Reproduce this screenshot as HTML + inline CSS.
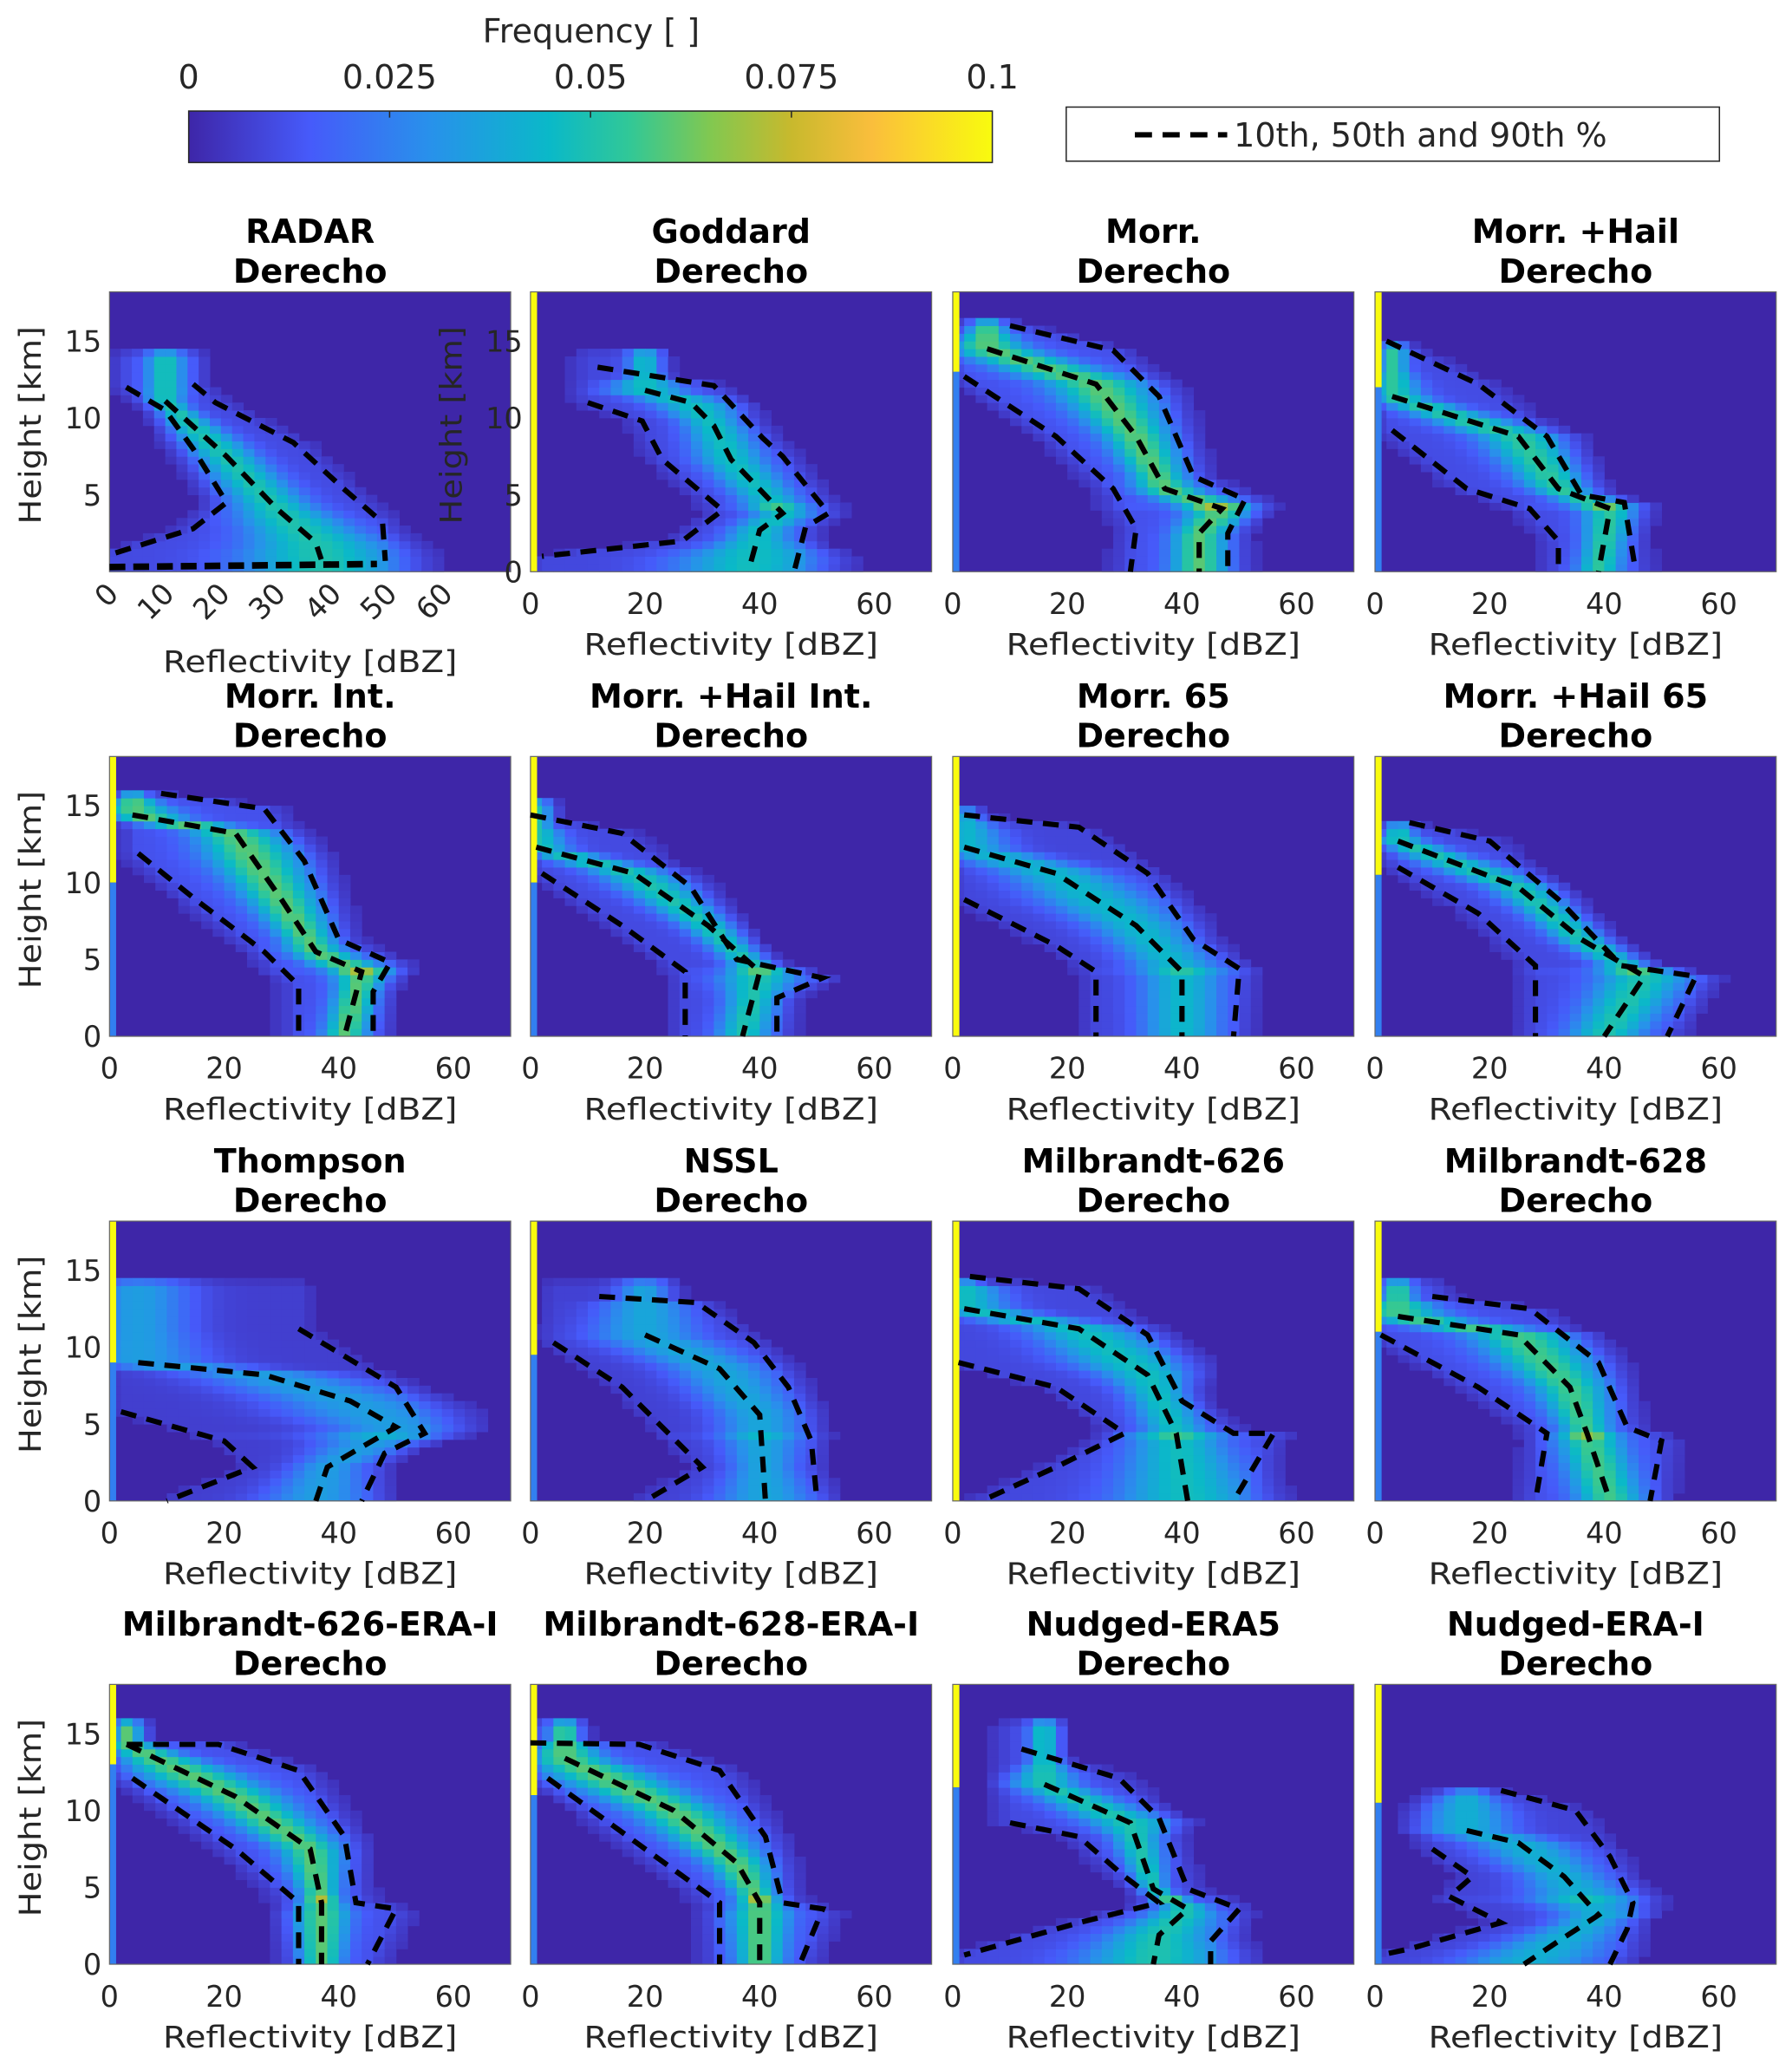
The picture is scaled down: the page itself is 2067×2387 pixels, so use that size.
<!DOCTYPE html>
<html><head><meta charset="utf-8"><style>
html,body{margin:0;padding:0;background:#fff;}
svg{display:block;}
text{font-family:"DejaVu Sans","Liberation Sans",sans-serif;fill:#262626;}
</style></head><body>
<svg id="fig" width="2067" height="2387" viewBox="0 0 1358 1568" xmlns="http://www.w3.org/2000/svg">
<defs>
<linearGradient id="parula" x1="0" x2="1" y1="0" y2="0">
<stop offset="0" stop-color="rgb(62,38,168)"/><stop offset="0.15" stop-color="rgb(70,90,250)"/>
<stop offset="0.3" stop-color="rgb(40,145,235)"/><stop offset="0.45" stop-color="rgb(10,185,200)"/>
<stop offset="0.55" stop-color="rgb(50,200,150)"/><stop offset="0.65" stop-color="rgb(130,200,80)"/>
<stop offset="0.75" stop-color="rgb(200,185,45)"/><stop offset="0.85" stop-color="rgb(250,190,60)"/>
<stop offset="1" stop-color="rgb(249,251,14)"/>
</linearGradient>
</defs>
<g>
<text x="448" y="32" text-anchor="middle" font-size="25">Frequency [ ]</text>
<rect x="143" y="84" width="609" height="39" fill="url(#parula)" stroke="#262626" stroke-width="1"/>
<g id="cbticks"></g>
</g>
<g>
<rect x="808" y="81" width="495" height="41" fill="#fff" stroke="#262626" stroke-width="1"/>
<line x1="860" y1="102" x2="930" y2="102" stroke="#000" stroke-width="4" stroke-dasharray="13,8"/>
<text x="935" y="111" font-size="25">10th, 50th and 90th %</text>
</g>
<g id="panels"></g>
</svg>
<script>
const cbTicks = [0, 0.025, 0.05, 0.075, 0.1];
const cbTickLabels = ['0', '0.025', '0.05', '0.075', '0.1'];
const titles = ['RADAR','Goddard','Morr.','Morr. +Hail','Morr. Int.','Morr. +Hail Int.','Morr. 65','Morr. +Hail 65','Thompson','NSSL','Milbrandt-626','Milbrandt-628','Milbrandt-626-ERA-I','Milbrandt-628-ERA-I','Nudged-ERA5','Nudged-ERA-I'];
const cloudTops = [14.5,14.7,16.5,15,16,15.5,15,14,14.5,14.5,14.5,14.5,16,16,16,11.5];
const gains = [0.8,0.75,0.95,0.85,0.95,0.8,0.7,0.8,0.55,0.6,0.75,0.9,0.95,0.95,0.8,0.65];
const stripYellowFrom = [-1,0,13,12,10,10,0,10.5,9,9.5,0,11,13,11,11.5,10.5];
const xTicks = [0,20,40,60];
const yTicks = [0,5,10,15];
const radarXTicks = [0,10,20,30,40,50,60];
// percentile lines as [dBZ, height km]
const p10Lines = [
 [[3,12],[10,10.5],[15,8],[21,4.5],[15,2.8],[0,1.1]],
 [[10,11],[19.5,9.8],[23,7.3],[33.5,4],[26.5,2],[2,1]],
 [[2,12.7],[18,8.8],[28,5.4],[32,2.8],[31,0]],
 [[3,9.2],[16,5.4],[27,4.1],[32,2],[32,0]],
 [[5,11.9],[15,8.9],[27,5.5],[33,3.3],[33,0]],
 [[2,10.6],[16,7.2],[27,4.2],[27,0]],
 [[2,8.9],[18,5.9],[25,4.2],[25,0]],
 [[4,11],[18,8],[28,4.6],[28,0]],
 [[2,5.8],[20,3.9],[25,2.2],[10,0]],
 [[4,10.3],[16,7.4],[30,2.2],[20,0]],
 [[1,9],[18,7.4],[30,4.4],[18,2.2],[5,0]],
 [[1,10.8],[18,7.4],[30,4.4],[28,0]],
 [[4,12.1],[22,7.5],[33,4],[33,0]],
 [[3,12.1],[20,7.5],[33,4],[33,0]],
 [[10,9.2],[22,8.3],[30,5.7],[36,4],[22,2.7],[2,0.6]],
 [[10,7.5],[17,5.7],[13,4.4],[22,2.7],[6,1],[1,0.6]]
];
const p50Lines = [
 [[10,11.1],[21,7.5],[30,4.1],[37,1.9],[38,0.8]],
 [[20,11.8],[28,11],[32,9.5],[35,7.3],[44,3.8],[40,2.7],[38,0]],
 [[6,14.5],[25,12.2],[32,8.8],[37,5.4],[47,4.1],[43,2.5],[43,0]],
 [[3,11.4],[25,8.8],[32,5.4],[41,4.1],[39,0]],
 [[4,14.4],[22,13.2],[30,8.9],[36,5.5],[44,4.2],[41,0]],
 [[1,12.3],[18,10.6],[31,7.2],[40,4.2],[37,0]],
 [[2,12.3],[18,10.6],[32,7.2],[40,4.2],[40,0]],
 [[4,12.7],[25,9.7],[36,6.3],[47,3.9],[40,0]],
 [[5,9],[27,8.2],[42,6.5],[50,4.8],[38,2.2],[36,0]],
 [[20,10.8],[33,8.6],[40,5.6],[41,0]],
 [[2,12.5],[22,11.2],[34,8.2],[39,4.4],[41,0]],
 [[4,12],[25,10.8],[34,7.4],[37,4.4],[41,0]],
 [[3,14.3],[22,10.9],[35,7.5],[37,4],[37,0]],
 [[6,13.4],[25,10],[36,6.6],[40,4],[40,0]],
 [[16,11.7],[31,9.2],[35,4.9],[41,3.6],[36,1.9],[35,0]],
 [[16,8.7],[25,7.9],[33,5.7],[39,3.2],[32,1.5],[26,0]]
];
const p90Lines = [
 [[15,12.2],[19,11],[33,8.4],[42,5.4],[49,3.2],[49.5,0.7]],
 [[11.7,13.3],[32,12.1],[40.5,8.7],[44,7.5],[52,3.8],[48,2.9],[46,0]],
 [[10,16],[28,14.4],[36,11.4],[42,6.2],[51,4.7],[48,2.5],[48,0]],
 [[2,15],[18,12.2],[30,8.8],[36,5],[43.5,4.5],[45.5,0]],
 [[9,15.8],[27,14.8],[34,11.4],[40,6.3],[49,4.8],[46,2.9],[46,0]],
 [[0,14.4],[16,13.2],[28,9.7],[36,5],[51,3.8],[43,2.5],[43,0]],
 [[2,14.4],[22,13.6],[34,10.6],[42,6.3],[50,4.4],[49,0]],
 [[6,13.9],[20,12.7],[32,8.9],[43,4.6],[56,3.9],[51,0]],
 [[33,11.2],[50,7.4],[55,4.4],[48,3.1],[44,0]],
 [[12,13.3],[29,12.9],[39,10.3],[45,7.4],[49,3.9],[50,0]],
 [[3,14.6],[22,13.8],[34,10.8],[40,6.5],[49,4.4],[56,4.4],[49,0]],
 [[10,13.3],[27,12.5],[39,9],[44,4.8],[50,3.9],[48,0]],
 [[3,14.3],[19,14.3],[33,12.6],[41,8.3],[43,4],[50,3.6],[45,0]],
 [[0,14.4],[19,14.3],[33,12.6],[41,8.3],[44,4],[51,3.6],[47,0]],
 [[12,14],[29,12.1],[36,9.5],[41,4.9],[50,3.6],[45,1.5],[45,0]],
 [[22,11.3],[35,10],[41,7],[45,4],[44,2.3],[41,0]]
];

const NS = 'http://www.w3.org/2000/svg';
const colX = [83,402,722,1042], rowTop = [221,573,925,1276], PW = 304, PH = 212, XMAX = 70, YMAX = 18.2;
const cmap = [[0,62,38,168],[0.15,70,90,250],[0.3,40,145,235],[0.45,10,185,200],[0.55,50,200,150],[0.65,130,200,80],[0.75,200,185,45],[0.85,250,190,60],[1,249,251,14]];
function color(v){v=Math.max(0,Math.min(1,v));for(let i=1;i<cmap.length;i++){if(v<=cmap[i][0]){const a=cmap[i-1],b=cmap[i],t=(v-a[0])/(b[0]-a[0]);return 'rgb('+[1,2,3].map(k=>Math.round(a[k]+t*(b[k]-a[k]))).join(',')+')';}}return 'rgb(249,251,14)';}
function el(tag,attrs,parent,txt){const e=document.createElementNS(NS,tag);for(const k in attrs)e.setAttribute(k,attrs[k]);if(txt!==undefined)e.textContent=txt;parent.appendChild(e);return e;}
function atH(line,h){
 for(let i=0;i<line.length-1;i++){const a=line[i],b=line[i+1];const lo=Math.min(a[1],b[1]),hi=Math.max(a[1],b[1]);
  if(h>=lo&&h<=hi){if(hi===lo)return a[0];return a[0]+(h-a[1])*(b[0]-a[0])/(b[1]-a[1]);}}
 let top=line[0],bot=line[0];line.forEach(p=>{if(p[1]>top[1])top=p;if(p[1]<bot[1])bot=p;});
 return h>top[1]?top[0]:bot[0];
}
const cbg=document.getElementById('cbticks');
cbTicks.forEach((t,i)=>{const x=143+t/0.1*609;
 if(i>0&&i<cbTicks.length-1){const l=el('line',{x1:x,x2:x,y1:84,y2:89,stroke:'#262626','stroke-width':1},cbg);}
 const tx=el('text',{x:x,y:67,'text-anchor':'middle','font-size':25},cbg,cbTickLabels[i]);
 
 
});
const root=document.getElementById('panels');
titles.forEach((title,p)=>{
 const x0=colX[p%4], top=rowTop[Math.floor(p/4)], bot=top+PH;
 const xmax = p===0?72:XMAX;
 const xs=d=>x0+d*PW/xmax, ys=h=>bot-h*PH/YMAX;
 const g=el('g',{},root);
 
 
 const t1=el('text',{x:x0+PW/2,y:top-37,'text-anchor':'middle','font-size':25,'font-weight':'bold'},g,title);
 
 
 t1.style.fill='#000';
 const t2=el('text',{x:x0+PW/2,y:top-7,'text-anchor':'middle','font-size':25,'font-weight':'bold'},g,'Derecho');
 
 
 t2.style.fill='#000';
 const bg=el('rect',{x:x0,y:top,width:PW,height:PH,fill:color(0)},g);
 
 
 const hm=el('g',{},g);
 
 
 const dstep=2, hstep=0.5;
 for(let h=0;h<YMAX;h+=hstep){
  const hc=h+hstep/2; if(hc>cloudTops[p])continue;
  const a=atH(p10Lines[p],hc),m=atH(p50Lines[p],hc),b=atH(p90Lines[p],hc);
  const lo=Math.min(a,m,b),hi=Math.max(a,m,b),w=Math.max(2.5,(hi-lo)/3.5);
  const fade=Math.min(1,(cloudTops[p]-hc)/1.5+0.5);
  const ml=(p>0&&Math.abs(hc-4.3)<0.4)?1.2:1;
  for(let d=0;d<xmax;d+=dstep){
   const dc=d+dstep/2;
   let dist=dc<lo?lo-dc:(dc>hi?dc-hi:0);
   let v=gains[p]*fade*ml*(0.5*Math.exp(-Math.pow((dc-m)/w,2))+0.13*Math.exp(-dist/4));
   if(v<0.04)continue;
   const r=el('rect',{x:xs(d),y:ys(h+hstep),width:PW/xmax*dstep+0.3,height:PH/YMAX*hstep+0.3,fill:color(v)},hm);
   
   
  }
 }
 if(stripYellowFrom[p]>=0){
  const s=el('rect',{x:x0,y:top,width:5,height:ys(stripYellowFrom[p])-top,fill:color(1)},g);
  
  
  if(stripYellowFrom[p]>0){const s2=el('rect',{x:x0,y:ys(stripYellowFrom[p]),width:5,height:ys(0)-ys(stripYellowFrom[p]),fill:color(0.25)},g);
  
  }
 }
 const fr=el('rect',{x:x0,y:top,width:PW,height:PH,fill:'none',stroke:'#666','stroke-width':0.8},g);
 
 
 [p10Lines[p],p50Lines[p],p90Lines[p]].forEach((ln,k)=>{
  const pl=el('polyline',{points:ln.map(q=>xs(q[0])+','+ys(q[1])).join(' '),fill:'none',stroke:'#000','stroke-width':4,'stroke-dasharray':'12,8'},g);
  
  
 });
 if(p===0){
  const bl=el('polyline',{points:xs(0)+','+ys(0.3)+' '+xs(48)+','+ys(0.5),fill:'none',stroke:'#000','stroke-width':5,'stroke-dasharray':'12,6'},g);
  
  
  radarXTicks.forEach(v=>{const x=xs(v);
   const tx=el('text',{x:x+8,y:bot+18,'text-anchor':'end','font-size':22,transform:'rotate(-45 '+(x+8)+' '+(bot+18)+')'},g,String(v));
   
   
  });
 } else {
  xTicks.forEach(v=>{
   const tx=el('text',{x:xs(v),y:bot+32,'text-anchor':'middle','font-size':22},g,String(v));
   
   
  });
 }
 const xl=el('text',{x:x0+PW/2,y:bot+(p===0?76:63),'text-anchor':'middle','font-size':23,textLength:223,lengthAdjust:'spacingAndGlyphs'},g,'Reflectivity [dBZ]');
 
 
 if(p%4===0||p===1){
  yTicks.forEach(v=>{ if(p===0&&v===0)return;
   const tx=el('text',{x:x0-6,y:ys(v)+8,'text-anchor':'end','font-size':22},g,String(v));
   
   
  });
  const cy=top+PH/2-5, cx=x0-52;
  const yl=el('text',{x:cx,y:cy,'text-anchor':'middle','font-size':23,textLength:150,lengthAdjust:'spacingAndGlyphs',transform:'rotate(-90 '+cx+' '+cy+')'},g,'Height [km]');
  
  
 }
});
</script>
</body></html>
